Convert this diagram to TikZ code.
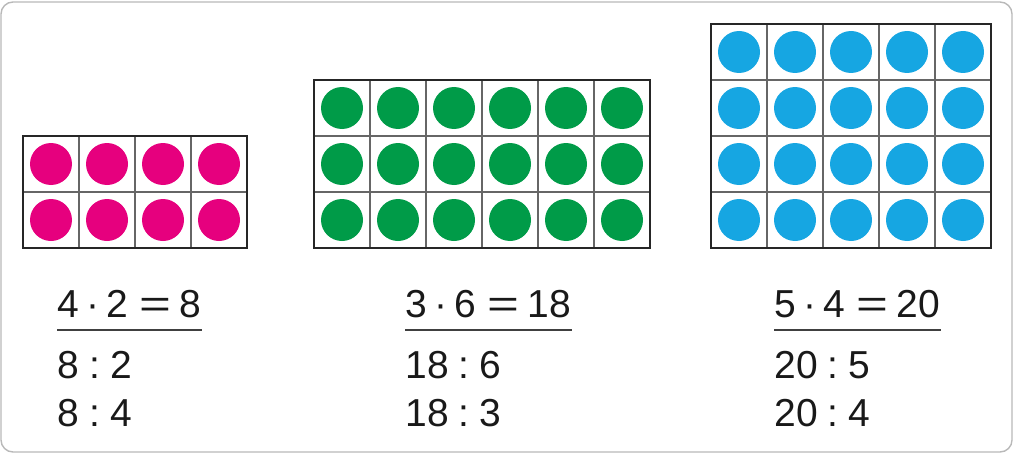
\documentclass[tikz,border=0pt]{standalone}
\usepackage{graphicx}
\usepackage{fontspec}
\setmainfont{Liberation Sans}
\usepackage{tikz}
\usetikzlibrary{positioning}

\definecolor{dotpink}{RGB}{230,0,126}
\definecolor{dotgreen}{RGB}{0,155,72}
\definecolor{dotblue}{RGB}{22,166,226}

% signs with the spacing of the worksheet
\newcommand\md{\hspace{0.18em}·\hspace{0.18em}}
\newcommand\dv{\hspace{0.26em}:\hspace{0.26em}}
\newcommand\gl{\hspace{0.3em}\scalebox{1.4}[1]{=}\hspace{0.22em}}

\begin{document}
\begin{tikzpicture}[
    x = 0.5pt,
    y = -0.5pt,
    frame/.style = {
      draw = gray!55,
      line width = 0.7pt,
      rounded corners = 6pt},
    outer/.style = {draw = black!85, line width = 1.4pt},
    inner/.style = {draw = black!60, line width = 0.8pt},
    dot/.style = {
      circle,
      inner sep = 0pt,
      minimum size = 21pt},
    task/.style = {
      anchor = base west,
      inner sep = 0pt,
      text = black!90,
      font = \fontsize{19.5}{23}\selectfont},
    rule/.style = {draw = black!75, line width = 0.8pt}
  ]
  \useasboundingbox (0,0) rectangle (1015,460);

  % Frame round the exercise
  \draw[frame] (1,2) rectangle (1012,452);

  % Pink field: 2 rows, 4 columns
  \foreach \r in {1,2}
    \foreach \c in {1,...,4}
      \node[dot, fill = dotpink] (pk-\r-\c) at ({23+56*\c-28}, {136+56*\r-28}) {};
  \foreach \c in {1,2,3}
    \draw[inner] ({23+56*\c},136) -- ({23+56*\c},248);
  \draw[inner] (23,192) -- (247,192);
  \draw[outer] (23,136) rectangle (247,248);

  % Green field: 3 rows, 6 columns
  \foreach \r in {1,2,3}
    \foreach \c in {1,...,6}
      \node[dot, fill = dotgreen] (gn-\r-\c) at ({314+56*\c-28}, {80+56*\r-28}) {};
  \foreach \c in {1,...,5}
    \draw[inner] ({314+56*\c},80) -- ({314+56*\c},248);
  \foreach \r in {1,2}
    \draw[inner] (314,{80+56*\r}) -- (650,{80+56*\r});
  \draw[outer] (314,80) rectangle (650,248);

  % Blue field: 4 rows, 5 columns
  \foreach \r in {1,...,4}
    \foreach \c in {1,...,5}
      \node[dot, fill = dotblue] (bl-\r-\c) at ({711+56*\c-28}, {24+56*\r-28}) {};
  \foreach \c in {1,...,4}
    \draw[inner] ({711+56*\c},24) -- ({711+56*\c},248);
  \foreach \r in {1,2,3}
    \draw[inner] (711,{24+56*\r}) -- (991,{24+56*\r});
  \draw[outer] (711,24) rectangle (991,248);

  % Tasks below the fields
  \node[task] (mul-a) at (57,317) {4\md2\gl8};
  \node[task] (div-a1) at (57,378) {8\dv2};
  \node[task] (div-a2) at (57,426) {8\dv4};
  \draw[rule] ([yshift=-6.5pt]mul-a.base west) -- ([yshift=-6.5pt]mul-a.base east);

  \node[task] (mul-b) at (405,317) {3\md6\gl18};
  \node[task] (div-b1) at (405,378) {18\dv6};
  \node[task] (div-b2) at (405,426) {18\dv3};
  \draw[rule] ([yshift=-6.5pt]mul-b.base west) -- ([yshift=-6.5pt]mul-b.base east);

  \node[task] (mul-c) at (774,317) {5\md4\gl20};
  \node[task] (div-c1) at (774,378) {20\dv5};
  \node[task] (div-c2) at (774,426) {20\dv4};
  \draw[rule] ([yshift=-6.5pt]mul-c.base west) -- ([yshift=-6.5pt]mul-c.base east);

\end{tikzpicture}
\end{document}
